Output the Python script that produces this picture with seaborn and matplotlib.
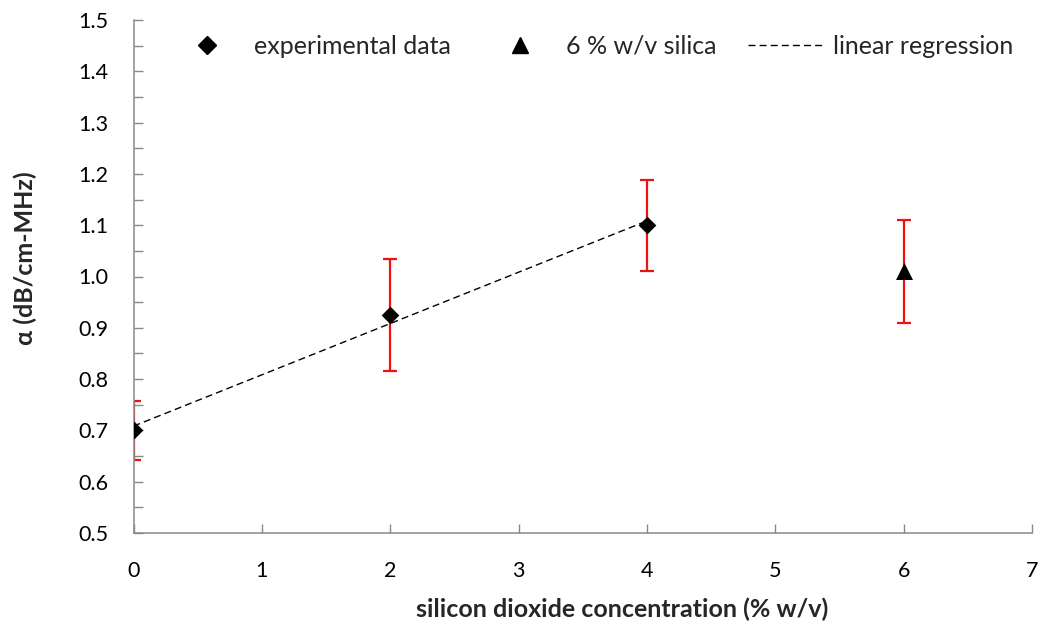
import matplotlib
matplotlib.use("Agg")
import matplotlib.pyplot as plt
from matplotlib.lines import Line2D
from matplotlib.ticker import MultipleLocator, FormatStrFormatter
import seaborn as sns
import numpy as np

# data
exp_x = [0, 2, 4]
exp_y = [0.70, 0.925, 1.10]
exp_err = [0.057, 0.109, 0.089]
silica_x = [6]
silica_y = [1.01]
silica_err = [0.10]

sns.set_style("white")
plt.rcParams['font.family'] = ['Lato', 'DejaVu Sans']

W, H = 1042, 628
fig = plt.figure(figsize=(W / 100, H / 100), dpi=100)
x0, x1, y0, y1 = 133.5, 1032, 20, 533
ax = fig.add_axes([x0 / W, 1 - y1 / H, (x1 - x0) / W, (y1 - y0) / H])

spine_c = "#898989"
red = "#ee1111"
dash = (0, (5, 3))

ax.errorbar(exp_x + silica_x, exp_y + silica_y, yerr=exp_err + silica_err,
            fmt="none", ecolor=red, elinewidth=1.6, capsize=4.9, capthick=1.6, zorder=2)
sns.regplot(x=np.array(exp_x), y=np.array(exp_y), ax=ax, ci=None, scatter=False, truncate=True,
            line_kws=dict(color="black", linestyle=dash, linewidth=1.0, zorder=3))
sns.scatterplot(x=exp_x, y=exp_y, ax=ax, marker="D", s=81, color="black", linewidth=0, zorder=4)
sns.scatterplot(x=silica_x, y=silica_y, ax=ax, marker="^", s=150, color="black", linewidth=0, zorder=4)

ax.set_xlim(0, 7)
ax.set_ylim(0.5, 1.5)
ax.xaxis.set_major_locator(MultipleLocator(1))
ax.yaxis.set_major_locator(MultipleLocator(0.1))
ax.yaxis.set_minor_locator(MultipleLocator(0.05))
ax.yaxis.set_major_formatter(FormatStrFormatter("%.1f"))
ax.tick_params(axis="both", which="both", direction="in", length=6.5, width=1.0, color=spine_c,
               labelsize=15.5, labelcolor="black")
ax.tick_params(axis="y", which="both", left=True, pad=18)
ax.tick_params(axis="x", which="major", bottom=True, pad=20)
for s in ["top", "right"]:
    ax.spines[s].set_visible(False)
for s in ["left", "bottom"]:
    ax.spines[s].set_color(spine_c)
    ax.spines[s].set_linewidth(1.1)

ax.set_xlabel("silicon dioxide concentration (% w/v)", fontsize=18, fontweight="bold", va="center")
ax.set_ylabel("α (dB/cm-MHz)", fontsize=18, fontweight="bold", va="center")
ax.xaxis.set_label_coords((622 - x0) / (x1 - x0), (y1 - 609) / (y1 - y0))
ax.yaxis.set_label_coords((25 - x0) / (x1 - x0), (y1 - 258) / (y1 - y0))

fs_leg = 18
px_per_em = fs_leg * 100 / 72
handles = [
    Line2D([], [], marker="D", color="black", linestyle="none", markersize=8.7),
    Line2D([], [], marker="^", color="black", linestyle="none", markersize=12),
    Line2D([], [], color="black", linestyle=dash, linewidth=1.0),
]
labels = ["experimental data", "6 % w/v silica", "linear regression"]
ax.legend(handles, labels, loc="center left", bbox_to_anchor=(168.5 / W, 1 - 46 / H),
          bbox_transform=fig.transFigure, ncol=3, frameon=False, fontsize=fs_leg,
          handlelength=77 / px_per_em, handletextpad=8 / px_per_em, columnspacing=31 / px_per_em,
          borderpad=0, borderaxespad=0)

fig.savefig("out.png", dpi=100)
